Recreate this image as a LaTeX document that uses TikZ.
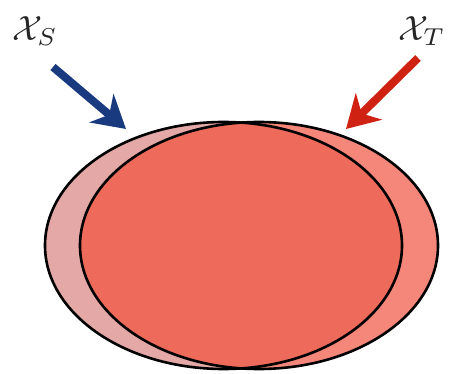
\documentclass[tikz,border=0pt]{standalone}
\usetikzlibrary{arrows.meta}
\definecolor{srcfill}{HTML}{E4A9A6}
\definecolor{tgtfill}{HTML}{F5877A}
\definecolor{ovfill}{HTML}{EE6A5A}
\definecolor{bluearr}{HTML}{1A3A80}
\definecolor{redarr}{HTML}{D02212}
\tikzset{
  setline/.style={draw=black, line width=2.6pt},
  bigarrow/.style={line width=8pt, -{Stealth[length=32pt,width=37pt,inset=10pt]}},
  setlabel/.style={inner sep=0pt, text=black!85}
}
\begin{document}
\begin{tikzpicture}[x=1pt,y=-1pt]
\useasboundingbox (0,0) rectangle (450,374);
% fills
\fill[srcfill] (223.5,245.5) ellipse [x radius=178.5, y radius=123.5];
\fill[tgtfill] (259,245.5) ellipse [x radius=179, y radius=123.5];
\begin{scope}
  \clip (223.5,245.5) ellipse [x radius=178.5, y radius=123.5];
  \fill[ovfill] (259,245.5) ellipse [x radius=179, y radius=123.5];
\end{scope}
% outlines
\draw[setline] (223.5,245.5) ellipse [x radius=178.5, y radius=123.5];
\draw[setline] (259,245.5) ellipse [x radius=179, y radius=123.5];
% labels
\node[setlabel] (ls) at (35,31) {\scalebox{3.5}{$\mathcal{X}_S$}};
\node[setlabel] (lt) at (422,31) {\scalebox{3.5}{$\mathcal{X}_T$}};
% arrows
\coordinate (bs) at (53,67);
\coordinate (be) at (126,129);
\coordinate (rs) at (418,58);
\coordinate (re) at (346,129);
\draw[bigarrow, bluearr] (bs) -- (be);
\draw[bigarrow, redarr] (rs) -- (re);
\end{tikzpicture}
\end{document}
